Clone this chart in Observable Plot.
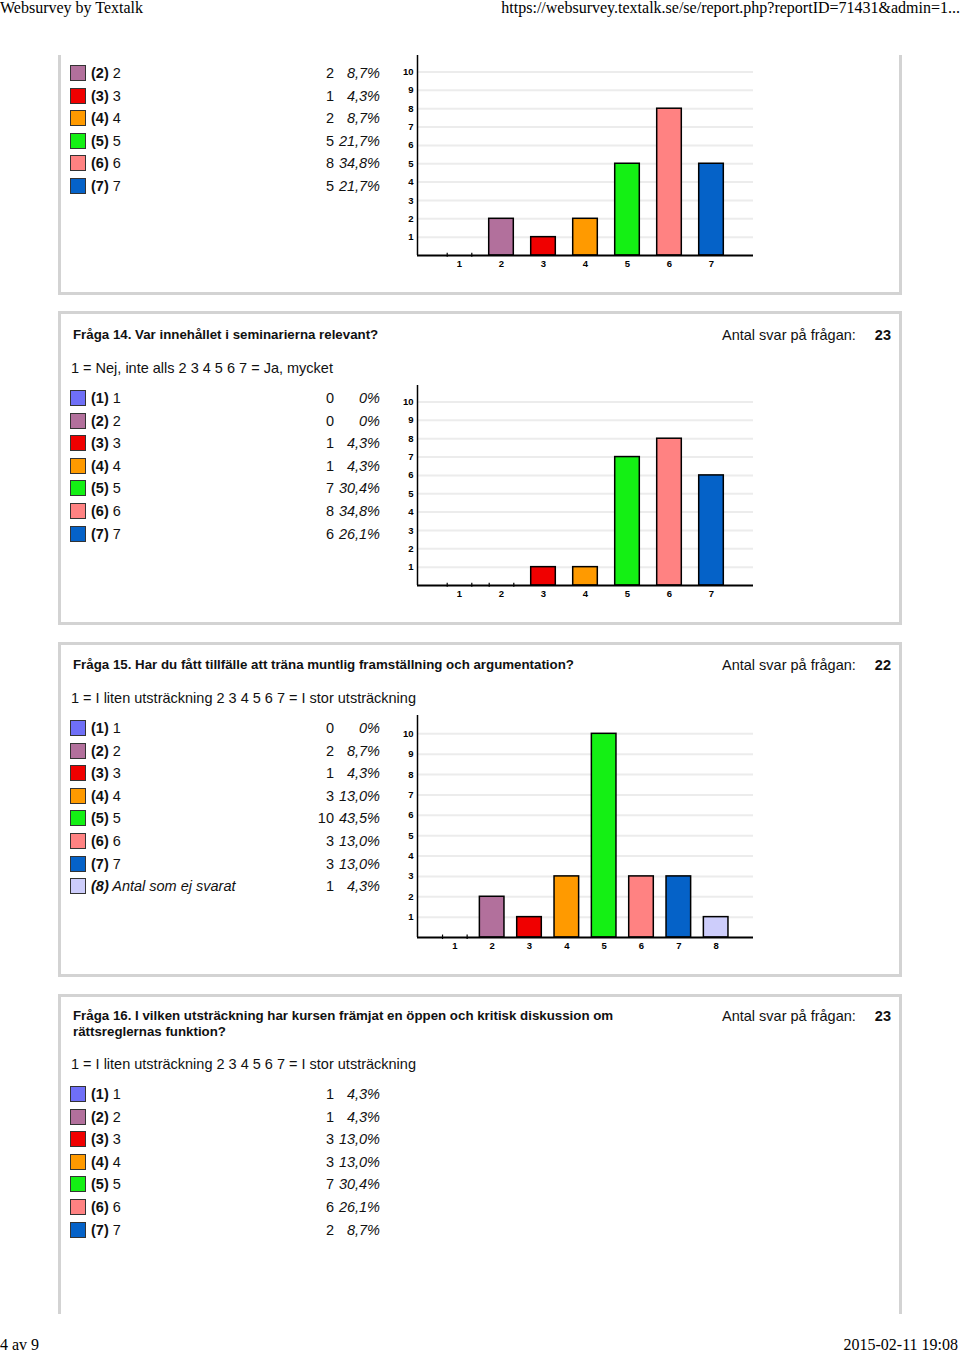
<!DOCTYPE html>
<html><head><meta charset="utf-8">
<script src="https://cdn.jsdelivr.net/npm/d3@7"></script>
<script src="https://cdn.jsdelivr.net/npm/@observablehq/plot@0.6"></script>
<style>
body{margin:0;background:#fff;}
#page{position:relative;width:960px;height:1353px;overflow:hidden;background:#fff;font-family:"Liberation Sans",Arial,Helvetica,sans-serif;color:#111;}
.abs{position:absolute;white-space:nowrap;}
.serif{font-family:"Liberation Serif","Times New Roman",serif;font-size:16px;line-height:16px;color:#000;}
.panel{position:absolute;border:3px solid #d3d3d3;box-sizing:border-box;}
.title{font-weight:bold;font-size:13.3px;line-height:16px;}
.sub{font-size:14.5px;line-height:16px;}
.row{font-size:14.5px;line-height:16px;}
.sq{position:absolute;width:16px;height:16px;box-sizing:border-box;border:1px solid #333;}
.chart{position:absolute;}
</style>
</head><body>
<div id="page"></div>
<script>
// ---------- data ----------
const headerLeft = "Websurvey by Textalk";
const headerRight = "https://websurvey.textalk.se/se/report.php?reportID=71431&admin=1...";
const footerLeft = "4 av 9";
const footerRight = "2015-02-11 19:08";

const colors = ["#6F6FF7","#B2709C","#F00000","#FF9A00","#14F014","#FF8282","#0562C8","#CDCDFB"];
const optionLabels = ["1","2","3","4","5","6","7","Antal som ej svarat"];
const answersLabel = "Antal svar på frågan:";
const yTicks = [1,2,3,4,5,6,7,8,9,10];
const yMax = 10.9;

// Fråga 13 (continued from previous page)
const q13Counts = [0,2,1,2,5,8,5];
const q13Pcts = ["0%","8,7%","4,3%","8,7%","21,7%","34,8%","21,7%"];

// Fråga 14
const q14Title = "Fråga 14. Var innehållet i seminarierna relevant?";
const q14Scale = "1 = Nej, inte alls 2 3 4 5 6 7 = Ja, mycket";
const q14Total = 23;
const q14Counts = [0,0,1,1,7,8,6];
const q14Pcts = ["0%","0%","4,3%","4,3%","30,4%","34,8%","26,1%"];

// Fråga 15
const q15Title = "Fråga 15. Har du fått tillfälle att träna muntlig framställning och argumentation?";
const q15Scale = "1 = I liten utsträckning 2 3 4 5 6 7 = I stor utsträckning";
const q15Total = 22;
const q15Counts = [0,2,1,3,10,3,3,1];
const q15Pcts = ["0%","8,7%","4,3%","13,0%","43,5%","13,0%","13,0%","4,3%"];

// Fråga 16
const q16TitleLines = ["Fråga 16. I vilken utsträckning har kursen främjat en öppen och kritisk diskussion om","rättsreglernas funktion?"];
const q16Scale = "1 = I liten utsträckning 2 3 4 5 6 7 = I stor utsträckning";
const q16Total = 23;
const q16Counts = [1,1,3,3,7,6,2];
const q16Pcts = ["4,3%","4,3%","13,0%","13,0%","30,4%","26,1%","8,7%"];

// ---------- layout ----------
const page = document.getElementById("page");
function el(tag, cls, css, html){
  const e = document.createElement(tag);
  if (cls) e.className = cls;
  Object.assign(e.style, css);
  if (html !== undefined) e.innerHTML = html;
  page.appendChild(e);
  return e;
}
function esc(s){return s.replace(/&/g,"&amp;").replace(/</g,"&lt;");}

el("div","abs serif",{left:"0px",top:"0px"},esc(headerLeft));
el("div","abs serif",{right:"0px",top:"0px"},esc(headerRight));
el("div","abs serif",{left:"0px",top:"1337px"},esc(footerLeft));
el("div","abs serif",{right:"2px",top:"1337px"},esc(footerRight));

// panels
el("div","panel",{left:"58px",top:"55px",width:"844px",height:"240px",borderTop:"none"});
el("div","panel",{left:"58px",top:"311px",width:"844px",height:"314px"});
el("div","panel",{left:"58px",top:"642px",width:"844px",height:"335px"});
el("div","panel",{left:"58px",top:"994px",width:"844px",height:"320px",borderBottom:"none"});

function header(titleLines, total, scale, yTitle, yScale){
  titleLines.forEach((t,i)=> el("div","abs title",{left:"73px",top:(yTitle-8+i*16)+"px"},esc(t)));
  el("div","abs sub",{left:"722px",top:(yTitle-8)+"px"},esc(answersLabel));
  el("div","abs sub",{left:"850px",width:"41px",textAlign:"right",top:(yTitle-8)+"px",fontWeight:"bold"},String(total));
  el("div","abs sub",{left:"71px",top:(yScale-8)+"px"},esc(scale));
}
function legend(counts, pcts, yFirst, minY){
  counts.forEach((c,i)=>{
    const y = yFirst + i*22.6;
    if (y < minY) return;
    const italic = i===7;
    el("div","sq",{left:"70px",top:(y-8)+"px",background:colors[i]});
    el("div","abs row",{left:"91px",top:(y-8)+"px",fontStyle:italic?"italic":"normal"},
       "<b>("+(i+1)+")</b> "+esc(optionLabels[i]));
    el("div","abs row",{left:"280px",width:"54px",textAlign:"right",top:(y-8)+"px"},String(c));
    el("div","abs row",{left:"330px",width:"50px",textAlign:"right",top:(y-8)+"px",fontStyle:"italic"},esc(pcts[i]));
  });
}
function chart(counts, top, plotH){
  const W = 370, mL = 21, mR = 13, mT = 0, mB = 22;
  const innerW = W - mL - mR;
  const xMax = counts.length + 1;
  const hw = 12.3 / (innerW / xMax);
  const data = counts.map((v,i)=>({k:i+1, v, c:colors[i]}));
  const zeroEdges = data.filter(d=>d.v===0).flatMap(d=>[d.k-hw, d.k+hw]);
  const svg = Plot.plot({
    width: W, height: plotH + mT + mB,
    marginLeft: mL, marginRight: mR, marginTop: mT, marginBottom: mB,
    style: {fontFamily:"'Liberation Sans',Arial,sans-serif", fontSize:"9.5px", fontWeight:"bold", background:"transparent", color:"#000", overflow:"visible"},
    x: {domain:[0,xMax], ticks:data.map(d=>d.k), tickSize:0, tickPadding:5, tickFormat:d=>String(d), label:null},
    y: {domain:[0,yMax], ticks:yTicks, tickSize:0, tickPadding:4, tickFormat:d=>String(d), label:null},
    color: {type:"identity"},
    marks: [
      Plot.ruleY(yTicks, {stroke:"#ececec", strokeWidth:2}),
      Plot.rect(data, {x1:d=>d.k-hw, x2:d=>d.k+hw, y1:0, y2:"v", fill:"c", stroke:"#000", strokeWidth:1.5}),
      Plot.ruleX(zeroEdges, {y1:-0.1, y2:0.12, stroke:"#000", strokeWidth:1.2}),
      Plot.ruleX([0], {stroke:"#000", strokeWidth:1.5}),
      Plot.ruleY([0], {stroke:"#000", strokeWidth:2})
    ]
  });
  svg.classList.add("chart");
  svg.style.position = "absolute";
  svg.style.left = "396px";
  svg.style.top = top + "px";
  page.appendChild(svg);
}

// Fråga 13 (tail)
legend(q13Counts, q13Pcts, 73-22.6, 60);
chart(q13Counts, 55, 200);

// Fråga 14
header([q14Title], q14Total, q14Scale, 335, 368);
legend(q14Counts, q14Pcts, 398, 0);
chart(q14Counts, 385, 200);

// Fråga 15
header([q15Title], q15Total, q15Scale, 665, 698);
legend(q15Counts, q15Pcts, 728, 0);
chart(q15Counts, 715, 222);

// Fråga 16
header(q16TitleLines, q16Total, q16Scale, 1016, 1064);
legend(q16Counts, q16Pcts, 1094, 0);
</script>
</body></html>
